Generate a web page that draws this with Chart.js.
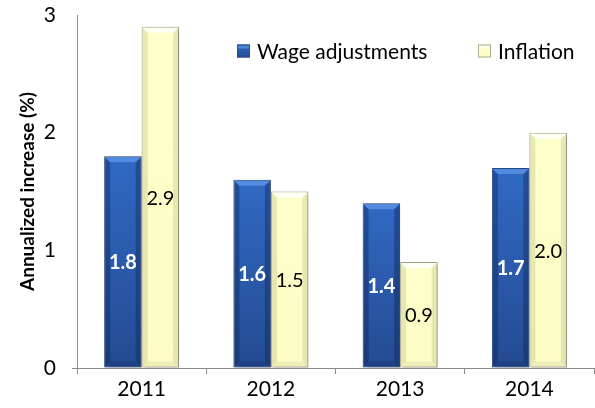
<!DOCTYPE html>
<html>
<head>
<meta charset="utf-8">
<script src="https://cdn.jsdelivr.net/npm/chart.js@4/dist/chart.umd.min.js"></script>
<style>
  html, body { margin: 0; padding: 0; background: #fff; }
  #wrap { width: 595px; height: 408px; position: relative; }
</style>
</head>
<body>
<div id="wrap"><canvas id="c" width="595" height="408"></canvas></div>
<script>
const years = ['2011', '2012', '2013', '2014'];
const wageAdjustments = [1.8, 1.6, 1.4, 1.7];
const inflation = [2.9, 1.5, 0.9, 2.0];
const yTicks = [0, 1, 2, 3];
const seriesNames = ['Wage adjustments', 'Inflation'];

const FONT = 'Lato, "Open Sans", sans-serif';

// colour sets for the bevelled bar look
const looks = [
  { topCol: '#3169c4', botCol: '#244b92', edge: 'rgba(10,30,70,0.35)', top: '#5b92e6', bottom: '#173a78', border: '#2a4d8c', label: '#ffffff', bold: true },
  { topCol: '#ffffcc', botCol: '#fcfcc4', edge: 'rgba(150,150,90,0.22)', top: '#ffffff', bottom: '#e2e2ae', border: '#acac8c', label: '#000000', bold: false }
];

function vGradient(ctx, y0, y1, look) {
  const g = ctx.createLinearGradient(0, y0, 0, y1);
  g.addColorStop(0, look.topCol);
  g.addColorStop(1, look.botCol);
  return g;
}

const barStyle = {
  id: 'barStyle',
  beforeDatasetsDraw(chart) {
    const ctx = chart.ctx;
    chart.data.datasets.forEach((ds, di) => {
      chart.getDatasetMeta(di).data.forEach(el => {
        const p = el.getProps(['y', 'base'], true);
        // each bar gets its own options object so the gradient is per bar
        el.options = Object.assign({}, el.options, {
          backgroundColor: vGradient(ctx, p.y, p.base, looks[di])
        });
      });
    });
  },
  beforeDatasetDraw(chart) {
    const ctx = chart.ctx;
    ctx.save();
    ctx.shadowColor = 'rgba(0,0,0,0.35)';
    ctx.shadowBlur = 4;
    ctx.shadowOffsetX = 2;
    ctx.shadowOffsetY = 1;
  },
  afterDatasetDraw(chart, args) {
    const ctx = chart.ctx;
    ctx.restore();
    const look = looks[args.index];
    args.meta.data.forEach(el => {
      const p = el.getProps(['x', 'y', 'base', 'width'], true);
      const l = p.x - p.width / 2 + 1, r = p.x + p.width / 2 - 1;
      const t = p.y + 1, b = p.base - 1, d = 5;
      ctx.save();
      // side shading
      ctx.fillStyle = look.edge;
      ctx.beginPath();
      ctx.moveTo(l, t); ctx.lineTo(l + d, t + d); ctx.lineTo(l + d, b - d); ctx.lineTo(l, b);
      ctx.closePath(); ctx.fill();
      ctx.beginPath();
      ctx.moveTo(r, t); ctx.lineTo(r - d, t + d); ctx.lineTo(r - d, b - d); ctx.lineTo(r, b);
      ctx.closePath(); ctx.fill();
      // top bevel
      ctx.globalAlpha = 0.8;
      ctx.fillStyle = look.top;
      ctx.beginPath();
      ctx.moveTo(l, t); ctx.lineTo(r, t); ctx.lineTo(r - d, t + d); ctx.lineTo(l + d, t + d);
      ctx.closePath(); ctx.fill();
      // bottom bevel
      ctx.globalAlpha = 0.55;
      ctx.fillStyle = look.bottom;
      ctx.beginPath();
      ctx.moveTo(l, b); ctx.lineTo(r, b); ctx.lineTo(r - d, b - d); ctx.lineTo(l + d, b - d);
      ctx.closePath(); ctx.fill();
      ctx.restore();
    });
  }
};

const valueLabels = {
  id: 'valueLabels',
  afterDatasetsDraw(chart) {
    const ctx = chart.ctx;
    ctx.save();
    ctx.textAlign = 'center';
    ctx.textBaseline = 'middle';
    chart.data.datasets.forEach((ds, di) => {
      const look = looks[di];
      ctx.fillStyle = look.label;
      ctx.font = (look.bold ? 'bold ' : '') + '20px ' + FONT;
      chart.getDatasetMeta(di).data.forEach((el, i) => {
        const p = el.getProps(['x', 'y', 'base'], true);
        ctx.fillText(ds.data[i].toFixed(1), p.x, (p.y + p.base) / 2 + 1);
      });
    });
    ctx.restore();
  }
};

const insideLegend = {
  id: 'insideLegend',
  afterDraw(chart) {
    const ctx = chart.ctx;
    const items = [{ x: 237 }, { x: 478 }];
    const cy = 51, s = 13;
    ctx.save();
    ctx.font = '21px ' + FONT;
    ctx.textBaseline = 'middle';
    ctx.textAlign = 'left';
    items.forEach((it, di) => {
      const look = looks[di];
      ctx.fillStyle = vGradient(ctx, cy - s / 2, cy + s / 2, look);
      ctx.fillRect(it.x, cy - s / 2, s, s);
      ctx.fillStyle = look.top;
      ctx.globalAlpha = 0.7;
      ctx.fillRect(it.x + 1, cy - s / 2 + 1, s - 2, 3);
      ctx.globalAlpha = 1;
      ctx.strokeStyle = look.border;
      ctx.lineWidth = 1;
      ctx.strokeRect(it.x + 0.5, cy - s / 2 + 0.5, s - 1, s - 1);
      ctx.fillStyle = '#000';
      ctx.fillText(chart.data.datasets[di].label, it.x + s + 7, cy + 1);
    });
    ctx.restore();
  }
};

new Chart(document.getElementById('c'), {
  type: 'bar',
  data: {
    labels: years,
    datasets: [
      { label: seriesNames[0], data: wageAdjustments, borderColor: looks[0].border },
      { label: seriesNames[1], data: inflation, borderColor: looks[1].border }
    ]
  },
  options: {
    responsive: false,
    animation: false,
    devicePixelRatio: 1,
    layout: { padding: { top: 15, right: 1, left: 0, bottom: 0 } },
    datasets: {
      bar: {
        categoryPercentage: 0.58,
        barPercentage: 1,
        borderWidth: 1,
        borderSkipped: false
      }
    },
    plugins: {
      legend: { display: false },
      tooltip: { enabled: false }
    },
    scales: {
      x: {
        grid: {
          offset: true,
          drawOnChartArea: false,
          drawTicks: true,
          tickLength: 6,
          color: '#8c8c8c'
        },
        border: { color: '#8c8c8c', width: 1 },
        ticks: { color: '#000', font: { family: FONT, size: 21 }, padding: 3 },
        afterFit(scale) { scale.height = 40; }
      },
      y: {
        min: 0,
        max: 3,
        afterBuildTicks(scale) { scale.ticks = yTicks.map(v => ({ value: v })); },
        grid: {
          drawOnChartArea: false,
          drawTicks: true,
          tickLength: 5,
          color: ctx => (ctx.tick && ctx.tick.value === 0 ? '#8c8c8c' : 'rgba(0,0,0,0)')
        },
        border: { color: '#8c8c8c', width: 1 },
        ticks: { color: '#000', font: { family: FONT, size: 21 }, padding: 16 },
        title: {
          display: true,
          text: 'Annualized increase (%)',
          color: '#000',
          font: { family: FONT, size: 19, weight: 'bold' },
          padding: { top: 16, bottom: 0 }
        },
        afterFit(scale) {
          scale.width = 77;
          scale.paddingTop = 0;
          scale.paddingBottom = 0;
        }
      }
    }
  },
  plugins: [barStyle, valueLabels, insideLegend]
});
</script>
</body>
</html>
